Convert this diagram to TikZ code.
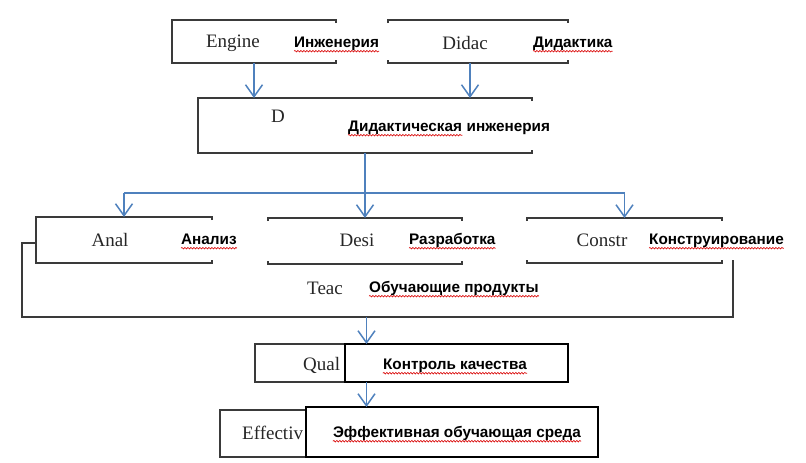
\documentclass[tikz,border=0pt]{standalone}
\usepackage{fontspec}
\setmainfont{Liberation Serif}
\newfontfamily\rufont{Liberation Sans}
\usetikzlibrary{arrows.meta,calc,decorations.pathmorphing}

\definecolor{linkblue}{HTML}{4F81BD}
\definecolor{framegray}{HTML}{3A3A3A}

\tikzset{
  area/.style={inner sep=0pt, outer sep=0pt},
  frame/.style={draw=framegray, line width=1.9pt},
  ruframe/.style={draw=black, line width=2pt, fill=white, inner sep=0pt, outer sep=0pt},
  link/.style={draw=linkblue, line width=1.5pt},
  arr/.style={link, -{Straight Barb[length=12pt,width=17pt]}},
  en/.style={font=\fontsize{19}{22}\selectfont, text=black!85, inner sep=0pt},
  ru/.style={font=\rufont\bfseries\fontsize{15.3}{18}\selectfont, inner sep=0pt,
    text height=11pt, text depth=3pt, anchor=west},
  spell/.style={draw=red!85!black, line width=0.6pt, decorate,
    decoration={snake, amplitude=0.8pt, segment length=3pt}}
}
\newcommand\spellmark[1]{\draw[spell] ([yshift=-1pt]#1.south west) -- ([yshift=-1pt]#1.south east);}

\begin{document}
\begin{tikzpicture}[x=1pt,y=-1pt]
\useasboundingbox (0,0) rectangle (806,463);

% box areas
\node[area, minimum width=164, minimum height=43] (engine) at (254,41.5) {};
\node[area, minimum width=180, minimum height=43] (didac) at (478,41.5) {};
\node[area, minimum width=334, minimum height=55] (dbox) at (365,125.5) {};
\node[area, minimum width=176, minimum height=46] (anal) at (124,240) {};
\node[area, minimum width=194, minimum height=46] (desi) at (365,241) {};
\node[area, minimum width=195, minimum height=45] (constr) at (624.5,240.5) {};
\node[area, minimum width=711, minimum height=74] (teac) at (377.5,280) {};

% open frames
\draw[frame] ($(engine.north east)+(0,3)$) -- (engine.north east) -- (engine.north west)
  -- (engine.south west) -- (engine.south east) -- ++(0,-3);
\draw[frame] ($(didac.north west)+(0,3)$) -- (didac.north west) -- (didac.north east) -- ++(0,3);
\draw[frame] ($(didac.south west)+(0,-3)$) -- (didac.south west) -- (didac.south east) -- ++(0,-3);
\draw[frame] ($(dbox.north east)+(0,3)$) -- (dbox.north east) -- (dbox.north west)
  -- (dbox.south west) -- (dbox.south east) -- ++(0,-3);
\draw[frame] ($(anal.north east)+(0,3)$) -- (anal.north east) -- (anal.north west)
  -- (anal.south west) -- (anal.south east) -- ++(0,-3);
\foreach \b in {desi,constr}{
  \draw[frame] ($(\b.north west)+(0,3)$) -- (\b.north west) -- (\b.north east) -- ++(0,3);
  \draw[frame] ($(\b.south west)+(0,-3)$) -- (\b.south west) -- (\b.south east) -- ++(0,-3);
}
\draw[frame] ($(anal.west)+(0,3)$) -- ($(teac.north west)$) -- (teac.south west)
  -- (teac.south east) -- ($(teac.east |- constr.south)+(0,-3)$);

% texts
\node[en] (engineTxt) at (233,43) {Engine};
\node[ru] (engineRu) at (294,43) {Инженерия};
\node[en] (didacTxt) at (465,43) {Didac};
\node[ru] (didacRu) at (533,43) {Дидактика};
\node[en] (dTxt) at (278,116) {D};
\node[ru] (dRuA) at (348,127) {Дидактическая};
\node[ru] (dRuB) at (dRuA.east) {\ инженерия};
\node[en] (analTxt) at (110,240) {Anal};
\node[ru] (analRu) at (181,240) {Анализ};
\node[en] (desiTxt) at (357,240) {Desi};
\node[ru] (desiRu) at (409,240) {Разработка};
\node[en] (constrTxt) at (602,240) {Constr};
\node[ru] (constrRu) at (649,240) {Конструирование};
\node[en] (teacTxt) at (325,288) {Teac};
\node[ru] (teacRu) at (369,288) {Обучающие продукты};
\foreach \t in {engineRu,didacRu,dRuA,analRu,desiRu,constrRu,teacRu}{\spellmark{\t}}

% lower boxes
\node[area, draw=framegray, line width=1.9pt, minimum width=223, minimum height=38] (qual) at (366.5,363) {};
\node[en, anchor=west] (qualTxt) at (303,365) {Qual};
\node[ruframe, minimum width=223, minimum height=38] (qualru) at (456.5,363) {};
\node[ru, anchor=center] (qualRu) at (455,365) {Контроль качества};
\spellmark{qualRu}

\node[area, minimum width=300, minimum height=47] (effect) at (370,433.5) {};
\draw[frame] ($(effect.north east)+(0,3)$) -- (effect.north east) -- (effect.north west)
  -- (effect.south west) -- (effect.south east) -- ++(0,-3);
\node[en, anchor=west] (effectTxt) at (242,433) {Effectiv};
\node[ruframe, minimum width=292, minimum height=50] (effectru) at (452,432) {};
\node[ru, anchor=center] (effectRu) at (457,433) {Эффективная обучающая среда};
\spellmark{effectRu}

% connectors
\coordinate (split) at ($(dbox.south)!0.615!(desi.north)$);
\draw[arr] (engine.south) -- (engine.south |- dbox.north);
\draw[arr] ([xshift=-8pt]didac.south) -- ([xshift=-8pt]didac.south |- dbox.north);
\draw[arr] (dbox.south) -- (desi.north);
\draw[link] (anal.north |- split) -- (constr.north |- split);
\draw[arr] (anal.north |- split) -- (anal.north);
\draw[arr] (constr.north |- split) -- (constr.north);
\draw[arr] (qual.north |- teac.south) -- (qual.north);
\draw[arr] (qual.south) -- (qual.south |- effectru.north);
\end{tikzpicture}
\end{document}
